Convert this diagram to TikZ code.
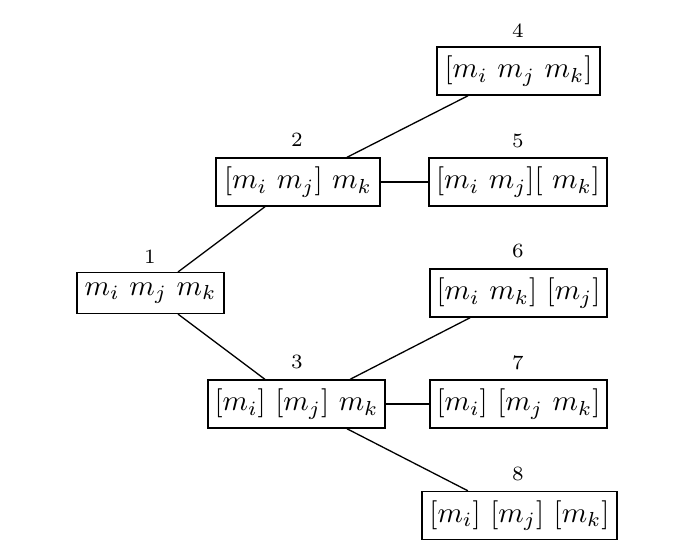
\documentclass[tikz,border=0pt]{standalone}
\begin{document}
\begin{tikzpicture}[x=0.345pt,y=-0.345pt,line width=0.45pt,
  box/.style={draw,line width=0.45pt,inner sep=0pt,minimum width=#1,minimum height=16.6pt},
  num/.style={inner sep=0pt,font=\scriptsize}]
\useasboundingbox (0,0) rectangle (676,551);
\node[box=50.7pt,minimum height=14.1pt] (n1) at (150.5,293) {$m_i\ m_j\ m_k$};
\node[box=56.6pt] (n2) at (298,182) {$[m_i\ m_j]\ m_k$};
\node[box=61.1pt] (n3) at (296.5,404) {$[m_i]\ [m_j]\ m_k$};
\node[box=56.2pt] (n4) at (518.5,71) {$[m_i\ m_j\ m_k]$};
\node[box=61.4pt] (n5) at (518,182) {$[m_i\ m_j][\ m_k]$};
\node[box=61.1pt] (n6) at (518.5,293) {$[m_i\ m_k]\ [m_j]$};
\node[box=61.1pt] (n7) at (518.5,404) {$[m_i]\ [m_j\ m_k]$};
\node[box=67.3pt] (n8) at (519.5,515.5) {$[m_i]\ [m_j]\ [m_k]$};
\node[num] (l1) at (150,257) {1};
\node[num] (l2) at (297,140) {2};
\node[num] (l3) at (297,362) {3};
\node[num] (l4) at (518,31) {4};
\node[num] (l5) at (518,141) {5};
\node[num] (l6) at (518,251) {6};
\node[num] (l7) at (518,363) {7};
\node[num] (l8) at (518,474) {8};
\draw ([xshift=9.5pt]n1.north) -- ([xshift=-11.4pt]n2.south);
\draw ([xshift=9.5pt]n1.south) -- ([xshift=-10.9pt]n3.north);
\draw ([xshift=16.9pt]n2.north) -- ([xshift=-17.4pt]n4.south);
\draw (n2.east) -- (n5.west);
\draw ([xshift=18.5pt]n3.north) -- ([xshift=-16.7pt]n6.south);
\draw (n3.east) -- (n7.west);
\draw ([xshift=17.4pt]n3.south) -- ([xshift=-17.8pt]n8.north);
\end{tikzpicture}
\end{document}
